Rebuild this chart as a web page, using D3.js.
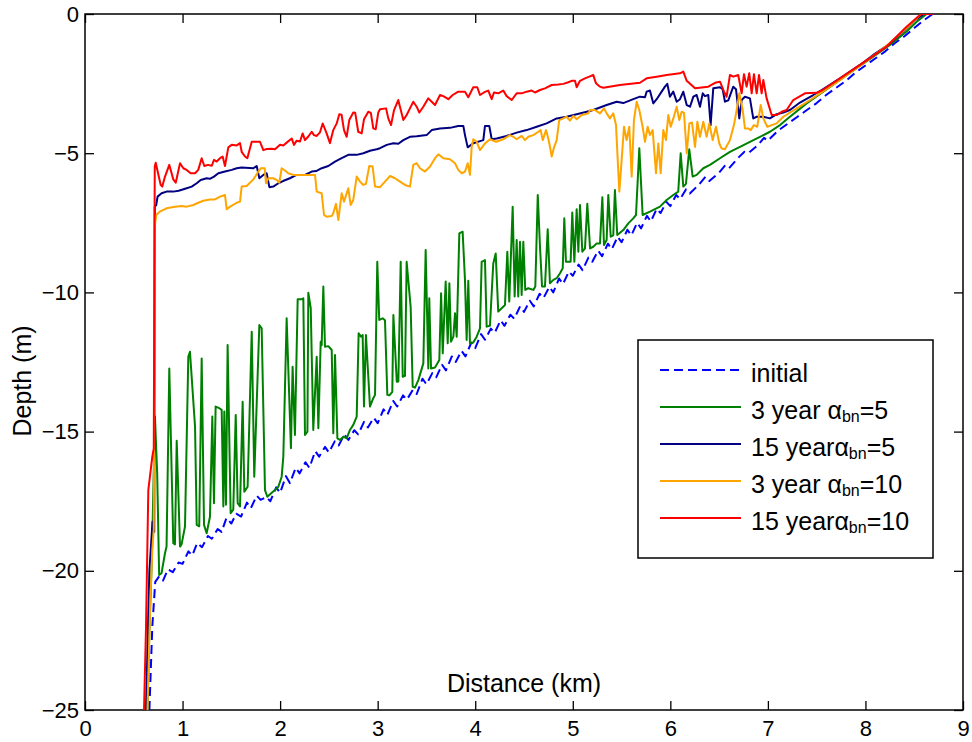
<!DOCTYPE html>
<html>
<head>
<meta charset="utf-8">
<script src="https://cdn.jsdelivr.net/npm/d3@7"></script>
<style>
	body { margin: 0; background: #fff; }
	text { font-family: "Liberation Sans", Arial, sans-serif; fill: #000; }
</style>
</head>
<body>
<div id="chart"></div>
<script>
// axis ticks
var xTicks = [0, 1, 2, 3, 4, 5, 6, 7, 8, 9];
var yTicks = [0, -5, -10, -15, -20, -25];

// legend entries: [main text, subscript, tail]
var legendLabels = [
	["initial", "", ""],
	["3 year \u03b1", "bn", "=5"],
	["15 year\u03b1", "bn", "=5"],
	["3 year \u03b1", "bn", "=10"],
	["15 year\u03b1", "bn", "=10"]
];
var seriesColors = ["#0000ff", "#008000", "#000080", "#ffa500", "#ff0000"];

// profiles: [distance km, depth m]
var initialProfile = [
	[0.66,-25],[0.69,-22],[0.72,-20.4],[0.76,-20.2],[0.8,-20.35],[0.85,-19.95],[0.9,-20.05],[0.96,-19.7],[1.0,-19.75],
	[1.06,-19.3],[1.1,-19.45],[1.15,-19.0],[1.2,-19.15],[1.26,-18.75],[1.3,-18.85],[1.36,-18.5],[1.4,-18.6],[1.45,-18.1],
	[1.5,-18.3],[1.55,-17.95],[1.6,-18.05],[1.66,-17.55],[1.7,-17.75],[1.76,-17.3],[1.8,-17.45],[1.86,-17.35],[1.9,-17.5],
	[1.96,-17.0],[2.0,-17.2],[2.06,-16.6],[2.1,-16.85],[2.16,-16.3],[2.2,-16.5],[2.26,-16.1],[2.3,-16.3],[2.36,-15.7],
	[2.4,-15.9],[2.46,-15.55],[2.5,-15.75],[2.56,-15.35],[2.6,-15.5],[2.66,-15.1],[2.7,-15.3],[2.76,-14.95],[2.8,-15.1],
	[2.86,-14.65],[2.9,-14.85],[2.96,-14.5],[3.0,-14.7],[3.06,-14.2],[3.1,-14.4],[3.16,-13.9],[3.2,-14.1],[3.26,-13.7],
	[3.3,-13.85],[3.36,-13.5],[3.4,-13.65],[3.46,-13.1],[3.5,-13.3],[3.56,-12.9],[3.6,-13.05],[3.66,-12.6],[3.7,-12.8],
	[3.76,-12.3],[3.8,-12.5],[3.86,-12.1],[3.9,-12.3],[3.96,-11.8],[4.0,-12.0],[4.06,-11.5],[4.1,-11.7],[4.16,-11.3],
	[4.2,-11.45],[4.26,-11.0],[4.3,-11.2],[4.36,-10.8],[4.4,-10.95],[4.46,-10.5],[4.5,-10.7],[4.56,-10.3],[4.6,-10.5],
	[4.66,-10.05],[4.7,-10.2],[4.76,-9.8],[4.8,-10.0],[4.86,-9.5],[4.9,-9.7],[4.96,-9.25],[5.0,-9.4],[5.06,-9.0],
	[5.1,-9.2],[5.16,-8.75],[5.2,-8.9],[5.26,-8.5],[5.3,-8.7],[5.36,-8.25],[5.4,-8.45],[5.46,-8.0],[5.5,-8.2],
	[5.56,-7.75],[5.6,-7.95],[5.66,-7.5],[5.7,-7.7],[5.76,-7.25],[5.8,-7.45],[5.86,-7.0],[5.9,-7.15],[5.96,-6.75],
	[6.0,-6.9],[6.06,-6.5],[6.1,-6.65],[6.16,-6.3],[6.2,-6.45],[6.3,-6.1],[6.36,-5.85],[6.4,-6.0],[6.5,-5.7],
	[6.56,-5.45],[6.6,-5.55],[6.7,-5.15],[6.76,-4.95],[6.8,-5.0],[6.9,-4.7],[6.96,-4.45],[7.0,-4.55],[7.1,-4.2],
	[7.2,-3.95],[7.3,-3.7],[7.4,-3.45],[7.5,-3.2],[7.6,-2.9],[7.7,-2.65],[7.8,-2.4],[7.9,-2.1],[8.0,-1.85],
	[8.1,-1.6],[8.2,-1.35],[8.3,-1.05],[8.4,-0.8],[8.5,-0.5],[8.6,-0.22],[8.69,0]
];

var green3yr5 = [
	[0.64,-25],[0.66,-22.1],[0.685,-19.6],[0.717,-14.46],[0.74,-16.5],[0.76,-20.15],[0.784,-20.09],[0.82,-19.37],
	[0.836,-19.13],[0.864,-12.73],[0.905,-19.01],[0.922,-19.05],[0.94,-15.33],[0.974,-19.13],[0.99,-19.05],[1.025,-18.41],
	[1.059,-12.31],[1.076,-12.13],[1.128,-14.82],[1.145,-18.35],[1.171,-18.4],[1.196,-12.37],[1.22,-18.35],[1.247,-18.65],
	[1.281,-18.06],[1.305,-14.46],[1.322,-17.57],[1.339,-14.1],[1.376,-14.16],[1.401,-14.22],[1.418,-17.69],[1.428,-14.28],
	[1.445,-17.63],[1.462,-11.89],[1.493,-17.93],[1.52,-17.8],[1.545,-14.4],[1.565,-17.57],[1.589,-17.69],[1.616,-13.93],
	[1.633,-17.16],[1.667,-16.98],[1.709,-11.41],[1.735,-16.62],[1.787,-11.17],[1.811,-11.29],[1.845,-17.1],[1.869,-17.34],
	[1.914,-17.2],[1.948,-17.1],[1.982,-16.98],[2.016,-16.62],[2.033,-15.9],[2.067,-10.93],[2.111,-15.6],[2.128,-12.67],
	[2.152,-15.12],[2.18,-10.25],[2.221,-10.25],[2.238,-10.21],[2.255,-15.12],[2.28,-15.0],[2.289,-10.01],[2.314,-10.57],
	[2.34,-14.94],[2.375,-12.31],[2.392,-14.88],[2.416,-11.77],[2.426,-11.9],[2.443,-9.79],[2.46,-11.95],[2.494,-11.93],
	[2.529,-12.07],[2.545,-15.06],[2.563,-12.25],[2.587,-15.24],[2.614,-15.3],[2.648,-15.18],[2.682,-15.24],[2.716,-14.94],
	[2.75,-14.76],[2.785,-14.46],[2.805,-11.47],[2.829,-11.59],[2.846,-11.53],[2.86,-14.1],[2.88,-11.53],[2.904,-13.03],
	[2.921,-14.1],[2.955,-13.8],[2.973,-13.68],[2.996,-8.9],[3.016,-10.99],[3.051,-10.93],[3.075,-11.0],[3.099,-13.68],
	[3.12,-13.7],[3.15,-13.57],[3.161,-10.81],[3.196,-13.21],[3.212,-13.2],[3.236,-8.9],[3.257,-13.03],[3.28,-13.0],
	[3.297,-8.9],[3.338,-10.51],[3.359,-13.39],[3.383,-13.42],[3.417,-13.15],[3.468,-12.55],[3.492,-8.48],[3.519,-12.73],
	[3.529,-10.21],[3.547,-12.73],[3.588,-12.7],[3.632,-12.43],[3.65,-10.03],[3.667,-12.19],[3.697,-9.61],[3.718,-11.83],
	[3.735,-9.67],[3.752,-11.77],[3.776,-11.59],[3.793,-10.75],[3.81,-11.59],[3.837,-7.88],[3.871,-7.82],[3.895,-9.55],
	[3.912,-11.71],[3.929,-9.58],[3.946,-11.83],[3.98,-11.8],[4.015,-11.59],[4.049,-11.29],[4.066,-8.9],[4.1,-8.84],
	[4.117,-11.23],[4.151,-11.2],[4.185,-8.96],[4.21,-8.6],[4.236,-10.69],[4.271,-10.57],[4.305,-10.45],[4.329,-8.54],
	[4.349,-10.33],[4.384,-6.92],[4.404,-10.15],[4.425,-8.12],[4.441,-10.15],[4.459,-8.18],[4.476,-10.09],[4.493,-8.18],
	[4.513,-9.91],[4.544,-9.85],[4.596,-9.91],[4.616,-9.79],[4.641,-6.5],[4.664,-8.36],[4.685,-9.79],[4.715,-9.79],
	[4.743,-7.73],[4.766,-9.67],[4.801,-9.55],[4.835,-9.49],[4.869,-9.31],[4.897,-9.13],[4.913,-7.34],[4.93,-8.9],
	[4.978,-8.9],[4.995,-7.13],[5.016,-8.9],[5.04,-7.01],[5.057,-8.54],[5.074,-6.86],[5.098,-8.54],[5.125,-8.42],
	[5.149,-6.82],[5.177,-8.42],[5.21,-8.36],[5.245,-8.24],[5.279,-8.24],[5.303,-6.58],[5.32,-8.3],[5.347,-8.12],
	[5.364,-6.5],[5.389,-8.0],[5.415,-7.95],[5.432,-6.32],[5.456,-7.94],[5.518,-7.76],[5.569,-7.52],[5.62,-7.34],
	[5.648,-7.22],[5.682,-4.82],[5.716,-7.22],[5.791,-7.1],[5.894,-6.92],[5.962,-6.68],[6.03,-6.5],[6.081,-6.38],
	[6.106,-5.0],[6.133,-6.2],[6.16,-6.1],[6.194,-4.86],[6.229,-5.84],[6.27,-5.78],[6.338,-5.54],[6.406,-5.42],
	[6.509,-5.18],[6.611,-4.95],[6.714,-4.77],[6.816,-4.59],[6.919,-4.41],[7.021,-4.23],[7.124,-3.99],[7.226,-3.69],
	[7.397,-3.21],[7.568,-2.79],[7.739,-2.37],[7.91,-1.95],[8.08,-1.53],[8.251,-1.11],[8.422,-0.63],[8.525,-0.28],[8.627,0]
];

var navy15yr5 = [
	[0.625,-25],[0.66,-20],[0.692,-18.24],[0.71,-18.6],[0.715,-6.92],[0.73,-6.86],[0.744,-6.56],[0.785,-6.44],
	[0.836,-6.38],[0.905,-6.38],[0.96,-6.35],[1.042,-6.26],[1.094,-6.2],[1.145,-6.08],[1.186,-5.96],[1.247,-5.9],
	[1.28,-5.92],[1.322,-5.84],[1.367,-5.72],[1.435,-5.66],[1.504,-5.6],[1.555,-5.54],[1.606,-5.51],[1.726,-5.54],
	[1.76,-5.46],[1.787,-5.9],[1.828,-5.78],[1.862,-5.72],[1.89,-6.22],[1.93,-6.2],[1.982,-6.08],[2.03,-6.0],
	[2.1,-5.9],[2.169,-5.78],[2.255,-5.78],[2.324,-5.66],[2.37,-5.64],[2.426,-5.54],[2.494,-5.46],[2.563,-5.3],
	[2.631,-5.18],[2.699,-5.06],[2.785,-5.06],[2.853,-5.0],[2.921,-4.91],[2.99,-4.86],[3.024,-4.82],[3.093,-4.7],
	[3.161,-4.64],[3.212,-4.66],[3.263,-4.53],[3.331,-4.41],[3.4,-4.39],[3.502,-4.35],[3.554,-4.17],[3.639,-4.11],
	[3.741,-4.09],[3.826,-4.02],[3.878,-4.02],[3.895,-4.35],[3.923,-4.79],[3.98,-4.64],[4.083,-4.53],[4.1,-4.02],
	[4.144,-4.02],[4.169,-4.5],[4.22,-4.47],[4.322,-4.38],[4.425,-4.26],[4.527,-4.17],[4.63,-4.05],[4.732,-3.93],
	[4.835,-3.75],[4.937,-3.69],[5.04,-3.6],[5.143,-3.51],[5.21,-3.45],[5.347,-3.27],[5.45,-3.15],[5.518,-3.2],
	[5.62,-3.06],[5.689,-2.97],[5.74,-2.99],[5.757,-2.79],[5.791,-2.75],[5.825,-3.21],[5.86,-3.06],[5.911,-2.79],
	[5.945,-2.61],[5.969,-2.51],[5.996,-2.97],[6.03,-2.79],[6.065,-3.15],[6.099,-3.06],[6.133,-2.79],[6.168,-3.27],
	[6.202,-3.33],[6.236,-2.97],[6.27,-2.91],[6.304,-3.33],[6.332,-2.85],[6.355,-2.95],[6.389,-2.91],[6.413,-3.99],
	[6.44,-2.67],[6.509,-2.63],[6.536,-2.7],[6.56,-3.15],[6.594,-3.1],[6.645,-2.61],[6.673,-2.7],[6.707,-3.75],
	[6.731,-3.09],[6.765,-2.97],[6.816,-3.03],[6.85,-3.75],[6.885,-3.69],[6.953,-3.69],[7.021,-3.75],[7.09,-3.6],
	[7.158,-3.54],[7.226,-3.45],[7.295,-3.27],[7.329,-3.18],[7.465,-2.91],[7.551,-2.73],[7.739,-2.31],[7.944,-1.83],
	[8.08,-1.47],[8.234,-1.11],[8.388,-0.63],[8.508,-0.22],[8.6,0]
];

var orange3yr10 = [
	[0.64,-25],[0.67,-21],[0.69,-19.25],[0.705,-18.5],[0.715,-7.64],[0.73,-7.22],[0.766,-7.1],[0.836,-6.98],
	[0.922,-6.92],[0.991,-6.9],[1.042,-6.92],[1.111,-6.86],[1.161,-6.78],[1.213,-6.71],[1.281,-6.66],[1.332,-6.66],
	[1.384,-6.56],[1.435,-6.5],[1.452,-7.01],[1.487,-6.92],[1.555,-6.78],[1.589,-6.74],[1.606,-6.2],[1.657,-6.18],
	[1.726,-5.94],[1.777,-5.66],[1.801,-5.54],[1.842,-5.54],[1.855,-6.08],[1.879,-5.9],[1.93,-5.9],[1.965,-5.96],
	[1.992,-6.06],[2.016,-5.54],[2.05,-5.62],[2.084,-5.72],[2.135,-5.78],[2.204,-5.78],[2.272,-5.78],[2.358,-5.78],
	[2.375,-6.38],[2.426,-6.44],[2.45,-7.22],[2.477,-7.28],[2.529,-7.26],[2.545,-7.16],[2.573,-6.82],[2.597,-7.4],
	[2.631,-6.44],[2.655,-6.74],[2.699,-6.26],[2.723,-6.86],[2.75,-6.68],[2.785,-5.84],[2.819,-6.02],[2.853,-6.14],
	[2.88,-6.1],[2.914,-5.46],[2.948,-5.48],[2.973,-6.2],[3.024,-6.22],[3.075,-6.02],[3.127,-5.82],[3.178,-5.9],
	[3.229,-6.02],[3.28,-6.14],[3.331,-6.2],[3.365,-5.42],[3.4,-5.36],[3.434,-5.54],[3.485,-5.66],[3.537,-5.48],
	[3.588,-5.18],[3.622,-5.04],[3.673,-5.18],[3.741,-5.22],[3.793,-5.36],[3.826,-5.6],[3.861,-5.72],[3.895,-5.66],
	[3.923,-5.36],[3.946,-5.78],[3.964,-4.77],[3.98,-4.5],[4.015,-4.59],[4.049,-4.89],[4.1,-4.65],[4.151,-4.5],
	[4.213,-4.59],[4.288,-4.5],[4.356,-4.35],[4.39,-4.41],[4.425,-4.5],[4.476,-4.38],[4.51,-4.53],[4.544,-4.41],
	[4.596,-4.35],[4.647,-4.23],[4.671,-4.17],[4.692,-4.53],[4.726,-4.17],[4.749,-4.47],[4.766,-4.77],[4.784,-5.12],
	[4.808,-4.79],[4.835,-4.53],[4.861,-3.81],[4.903,-3.75],[4.937,-3.69],[4.971,-3.83],[5.006,-3.66],[5.04,-3.78],
	[5.091,-3.63],[5.125,-3.6],[5.159,-3.57],[5.177,-3.45],[5.228,-3.45],[5.279,-3.57],[5.32,-3.39],[5.347,-3.57],
	[5.381,-3.75],[5.415,-3.57],[5.443,-3.99],[5.477,-6.38],[5.501,-5.24],[5.525,-4.05],[5.552,-4.53],[5.579,-4.05],
	[5.604,-5.84],[5.627,-3.81],[5.655,-3.15],[5.682,-3.45],[5.716,-4.05],[5.74,-4.59],[5.768,-4.05],[5.791,-4.35],
	[5.819,-4.17],[5.853,-5.72],[5.877,-4.65],[5.901,-5.72],[5.928,-4.17],[5.955,-4.53],[5.979,-3.63],[6.004,-4.05],
	[6.031,-3.75],[6.065,-3.33],[6.092,-3.81],[6.116,-3.51],[6.14,-3.55],[6.168,-5.0],[6.195,-3.93],[6.222,-3.9],
	[6.253,-4.77],[6.277,-3.87],[6.304,-4.41],[6.338,-3.87],[6.372,-4.41],[6.399,-3.93],[6.434,-4.53],[6.468,-4.05],
	[6.502,-4.65],[6.526,-4.83],[6.56,-4.86],[6.611,-4.53],[6.652,-3.99],[6.68,-3.45],[6.707,-2.85],[6.742,-3.45],
	[6.765,-4.11],[6.799,-4.11],[6.824,-4.17],[6.857,-3.99],[6.891,-4.05],[6.926,-3.27],[6.953,-3.75],[6.994,-4.05],
	[7.039,-3.99],[7.09,-3.93],[7.158,-3.69],[7.295,-3.39],[7.432,-3.09],[7.535,-2.85],[7.739,-2.37],[7.944,-1.86],
	[8.217,-1.14],[8.422,-0.5],[8.57,0]
];

var red15yr10 = [
	[0.605,-25],[0.625,-22.1],[0.649,-17.1],[0.69,-15.9],[0.705,-15.6],[0.715,-5.48],[0.725,-5.34],[0.776,-6.14],
	[0.792,-6.2],[0.82,-5.84],[0.864,-5.42],[0.87,-5.5],[0.905,-5.94],[0.93,-6.06],[0.974,-5.36],[1.008,-5.54],
	[1.042,-5.6],[1.083,-5.72],[1.128,-5.72],[1.161,-5.6],[1.196,-5.18],[1.223,-5.46],[1.26,-5.42],[1.3,-5.45],
	[1.322,-5.24],[1.35,-5.3],[1.384,-5.18],[1.411,-5.12],[1.435,-5.46],[1.469,-4.79],[1.504,-4.7],[1.555,-4.72],
	[1.589,-4.64],[1.606,-4.95],[1.64,-5.12],[1.664,-5.18],[1.709,-4.59],[1.794,-4.59],[1.828,-4.89],[1.862,-4.85],
	[1.91,-4.84],[1.948,-4.86],[1.999,-4.7],[2.033,-4.72],[2.067,-4.62],[2.119,-4.47],[2.142,-4.7],[2.17,-4.55],
	[2.204,-4.58],[2.231,-4.29],[2.255,-4.53],[2.289,-4.4],[2.324,-4.23],[2.347,-4.35],[2.375,-4.38],[2.409,-4.25],
	[2.436,-3.93],[2.477,-4.29],[2.511,-4.64],[2.545,-4.17],[2.58,-3.93],[2.607,-3.6],[2.63,-3.62],[2.655,-4.17],
	[2.682,-4.41],[2.709,-3.81],[2.75,-3.54],[2.77,-3.55],[2.801,-4.23],[2.836,-4.29],[2.86,-3.78],[2.904,-3.51],
	[2.93,-3.55],[2.955,-4.11],[2.98,-4.14],[3.006,-3.54],[3.024,-3.42],[3.086,-3.39],[3.109,-3.75],[3.137,-3.99],
	[3.168,-3.45],[3.211,-3.09],[3.263,-3.81],[3.297,-3.63],[3.331,-3.39],[3.365,-3.15],[3.4,-3.33],[3.427,-3.54],
	[3.468,-3.33],[3.519,-3.03],[3.554,-3.15],[3.588,-3.27],[3.639,-2.91],[3.673,-2.95],[3.724,-3.06],[3.769,-2.91],
	[3.826,-2.79],[3.895,-2.79],[3.929,-2.99],[3.98,-2.63],[4.021,-2.63],[4.049,-2.91],[4.1,-2.8],[4.134,-2.75],
	[4.169,-3.06],[4.192,-2.82],[4.236,-2.85],[4.288,-2.75],[4.322,-2.95],[4.374,-3.09],[4.425,-2.85],[4.476,-2.85],
	[4.527,-2.79],[4.579,-2.75],[4.613,-2.82],[4.664,-2.73],[4.715,-2.67],[4.784,-2.55],[4.851,-2.53],[4.903,-2.51],
	[4.954,-2.45],[4.989,-2.4],[5.023,-2.4],[5.04,-2.63],[5.074,-2.4],[5.125,-2.31],[5.169,-2.25],[5.21,-2.19],
	[5.238,-2.49],[5.279,-2.61],[5.313,-2.65],[5.484,-2.55],[5.689,-2.47],[5.757,-2.31],[5.86,-2.25],[5.962,-2.19],
	[6.099,-2.13],[6.133,-2.07],[6.168,-2.4],[6.253,-2.67],[6.389,-2.61],[6.458,-2.47],[6.509,-2.43],[6.55,-2.79],
	[6.577,-2.97],[6.611,-2.19],[6.645,-2.25],[6.696,-2.19],[6.731,-2.85],[6.755,-2.16],[6.782,-2.61],[6.809,-2.13],
	[6.834,-2.85],[6.857,-2.16],[6.885,-2.85],[6.909,-2.19],[6.936,-2.85],[6.953,-2.37],[6.987,-3.03],[7.039,-3.63],
	[7.09,-3.63],[7.141,-3.51],[7.192,-3.45],[7.26,-3.09],[7.38,-2.85],[7.5,-2.83],[7.561,-2.73],[7.739,-2.31],
	[7.944,-1.83],[8.217,-1.17],[8.422,-0.46],[8.559,-0.04],[8.56,0],[8.69,0]
];

var seriesData = [initialProfile, green3yr5, navy15yr5, orange3yr10, red15yr10];

/*
 * ProfileChart - draws the depth profiles
 */
ProfileChart = function (_parentElement, _series, _colors) {
	this.parentElement = _parentElement;
	this.series = _series;
	this.colors = _colors;
	this.initVis();
};

ProfileChart.prototype.initVis = function () {
	var vis = this;
	vis.margin = { top: 14, right: 9, bottom: 32, left: 85 };
	vis.width = 972 - vis.margin.left - vis.margin.right;
	vis.height = 742 - vis.margin.top - vis.margin.bottom;

	vis.svg = d3
		.select("#" + vis.parentElement)
		.append("svg")
		.attr("width", 972)
		.attr("height", 742)
		.append("g")
		.attr("transform", "translate(" + vis.margin.left + "," + vis.margin.top + ")");

	vis.x = d3.scaleLinear().domain([0, 9]).range([0, vis.width]);
	vis.y = d3.scaleLinear().domain([-25, 0]).range([vis.height, 0]);

	vis.svg
		.append("clipPath")
		.attr("id", "plot-clip")
		.append("rect")
		.attr("width", vis.width)
		.attr("height", vis.height);

	vis.drawAxes();
	vis.drawLines();
	vis.drawLegend();
};

ProfileChart.prototype.drawAxes = function () {
	var vis = this;
	var tickLen = 9;

	var bottom = vis.svg
		.append("g")
		.attr("transform", "translate(0," + vis.height + ")")
		.call(d3.axisBottom(vis.x).tickValues(xTicks).tickSizeInner(-tickLen).tickSizeOuter(0).tickPadding(10));
	var left = vis.svg
		.append("g")
		.call(d3.axisLeft(vis.y).tickValues(yTicks).tickSizeInner(-tickLen).tickSizeOuter(0).tickPadding(6));
	var top = vis.svg
		.append("g")
		.call(d3.axisTop(vis.x).tickValues(xTicks).tickSizeInner(-tickLen).tickSizeOuter(0).tickFormat(""));
	var right = vis.svg
		.append("g")
		.attr("transform", "translate(" + vis.width + ",0)")
		.call(d3.axisRight(vis.y).tickValues(yTicks).tickSizeInner(-tickLen).tickSizeOuter(0).tickFormat(""));

	[bottom, left, top, right].forEach(function (g) {
		g.select(".domain").remove();
		g.selectAll(".tick line").attr("stroke", "#000").attr("stroke-width", 1.3);
		g.selectAll(".tick text")
			.attr("font-family", '"Liberation Sans", Arial, sans-serif')
			.attr("font-size", 22)
			.attr("fill", "#000");
	});

	vis.svg
		.append("rect")
		.attr("width", vis.width)
		.attr("height", vis.height)
		.attr("fill", "none")
		.attr("stroke", "#000")
		.attr("stroke-width", 1.5);

	// axis titles
	vis.svg
		.append("text")
		.attr("x", vis.width / 2)
		.attr("y", vis.height - 18)
		.attr("text-anchor", "middle")
		.attr("font-size", 25)
		.text("Distance (km)");

	vis.svg
		.append("text")
		.attr("transform", "translate(" + (-vis.margin.left + 31) + "," + (vis.height / 2 + 19) + ") rotate(-90)")
		.attr("text-anchor", "middle")
		.attr("font-size", 25)
		.text("Depth (m)");
};

ProfileChart.prototype.drawLines = function () {
	var vis = this;

	var line = d3
		.line()
		.x((d) => vis.x(d[0]))
		.y((d) => vis.y(d[1]));

	vis.svg
		.append("g")
		.attr("clip-path", "url(#plot-clip)")
		.selectAll(".profile")
		.data(vis.series)
		.enter()
		.append("path")
		.attr("class", "profile")
		.attr("fill", "none")
		.attr("stroke", (d, i) => vis.colors[i])
		.attr("stroke-width", 2)
		.attr("stroke-linejoin", "round")
		.attr("stroke-dasharray", (d, i) => (i == 0 ? "9,5" : null))
		.attr("d", line);
};

ProfileChart.prototype.drawLegend = function () {
	var vis = this;
	var lx = 638 - vis.margin.left;
	var ly = 340 - vis.margin.top;
	var rowGap = 37;

	var legend = vis.svg.append("g").attr("transform", "translate(" + lx + "," + ly + ")");

	legend
		.append("rect")
		.attr("width", 295)
		.attr("height", 218)
		.attr("fill", "#fff")
		.attr("stroke", "#000")
		.attr("stroke-width", 1.5);

	var rows = legend
		.selectAll(".legend-row")
		.data(legendLabels)
		.enter()
		.append("g")
		.attr("class", "legend-row")
		.attr("transform", (d, i) => "translate(0," + (30 + i * rowGap) + ")");

	rows
		.append("line")
		.attr("x1", 22)
		.attr("x2", 103)
		.attr("stroke", (d, i) => vis.colors[i])
		.attr("stroke-width", 2)
		.attr("stroke-dasharray", (d, i) => (i == 0 ? "9,5" : null));

	var label = rows
		.append("text")
		.attr("x", 113)
		.attr("y", 12)
		.attr("font-size", 25);

	label.append("tspan").text((d) => d[0]);
	label
		.append("tspan")
		.attr("font-size", 16)
		.attr("dy", 3)
		.text((d) => d[1]);
	label
		.append("tspan")
		.attr("dy", -3)
		.text((d) => d[2]);
};

new ProfileChart("chart", seriesData, seriesColors);
</script>
</body>
</html>
